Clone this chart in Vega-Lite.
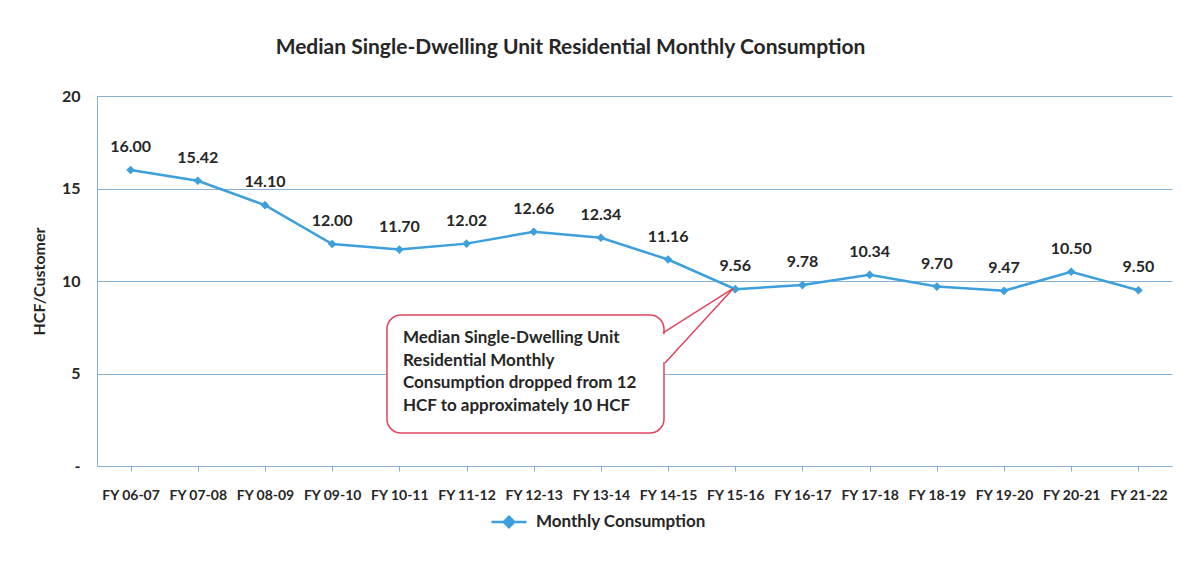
{
  "$schema": "https://vega.github.io/schema/vega-lite/v6.json",
  "width": 1075,
  "height": 370,
  "autosize": "none",
  "padding": {"left": 97, "top": 96, "right": 9, "bottom": 104},
  "background": "white",
  "title": {
    "text": "Median Single-Dwelling Unit Residential Monthly Consumption",
    "anchor": "middle",
    "dx": -64,
    "offset": 30,
    "font": "Lato",
    "fontSize": 21,
    "fontWeight": "bold",
    "color": "#262626"
  },
  "config": {
    "view": {"stroke": null},
    "font": "Lato"
  },
  "datasets": {
    "main": [
      {"fy": "FY 06-07", "hcf": 16.00, "series": "Monthly Consumption"},
      {"fy": "FY 07-08", "hcf": 15.42, "series": "Monthly Consumption"},
      {"fy": "FY 08-09", "hcf": 14.10, "series": "Monthly Consumption"},
      {"fy": "FY 09-10", "hcf": 12.00, "series": "Monthly Consumption"},
      {"fy": "FY 10-11", "hcf": 11.70, "series": "Monthly Consumption"},
      {"fy": "FY 11-12", "hcf": 12.02, "series": "Monthly Consumption"},
      {"fy": "FY 12-13", "hcf": 12.66, "series": "Monthly Consumption"},
      {"fy": "FY 13-14", "hcf": 12.34, "series": "Monthly Consumption"},
      {"fy": "FY 14-15", "hcf": 11.16, "series": "Monthly Consumption"},
      {"fy": "FY 15-16", "hcf": 9.56, "series": "Monthly Consumption"},
      {"fy": "FY 16-17", "hcf": 9.78, "series": "Monthly Consumption"},
      {"fy": "FY 17-18", "hcf": 10.34, "series": "Monthly Consumption"},
      {"fy": "FY 18-19", "hcf": 9.70, "series": "Monthly Consumption"},
      {"fy": "FY 19-20", "hcf": 9.47, "series": "Monthly Consumption"},
      {"fy": "FY 20-21", "hcf": 10.50, "series": "Monthly Consumption"},
      {"fy": "FY 21-22", "hcf": 9.50, "series": "Monthly Consumption"}
    ],
    "box": [
      {"x": 4.316, "x2": 8.439, "y": 8.162, "y2": 1.784}
    ],
    "cover": [
      {"x": 8.439, "y": 7.12, "y2": 5.62}
    ],
    "pointer": [
      {"o": 1, "x": 8.424, "y": 7.19},
      {"o": 2, "x": 9.47, "y": 9.6},
      {"o": 3, "x": 8.454, "y": 5.57}
    ],
    "note": [
      {"x": 4.554, "y": 7.35, "t": "Median Single-Dwelling Unit\nResidential Monthly\nConsumption dropped from 12\nHCF to approximately 10 HCF"}
    ]
  },
  "layer": [
    {
      "data": {"name": "main"},
      "encoding": {
        "x": {
          "field": "fy",
          "type": "nominal",
          "sort": null,
          "scale": {"paddingInner": 0, "paddingOuter": 0},
          "axis": {
            "title": null,
            "labelAngle": 0,
            "labelFont": "Lato",
            "labelFontSize": 14,
            "labelFontWeight": "bold",
            "labelColor": "#262626",
            "labelPadding": 17,
            "bandPosition": 0,
            "ticks": true,
            "tickSize": 5,
            "tickColor": "#86b0d4",
            "domainColor": "#86b0d4",
            "grid": false
          }
        },
        "y": {
          "field": "hcf",
          "type": "quantitative",
          "scale": {"domain": [0, 20]},
          "axis": {
            "title": "HCF/Customer",
            "titleFont": "Lato",
            "titleFontSize": 16,
            "titleFontWeight": "bold",
            "titleColor": "#262626",
            "titlePadding": 14,
            "values": [0, 5, 10, 15, 20],
            "labelExpr": "datum.value == 0 ? '-' : datum.label",
            "labelFont": "Lato",
            "labelFontSize": 16,
            "labelFontWeight": "bold",
            "labelColor": "#262626",
            "labelPadding": 17,
            "ticks": false,
            "domainColor": "#86b0d4",
            "grid": true,
            "gridColor": "#86b0d4",
            "gridWidth": 1
          }
        }
      },
      "layer": [
        {
          "mark": {"type": "line", "strokeWidth": 2.5},
          "encoding": {
            "color": {
              "field": "series",
              "type": "nominal",
              "scale": {"range": ["#3d9fdc"]},
              "legend": {
                "title": null,
                "orient": "none",
                "legendX": 393,
                "legendY": 407,
                "symbolType": "M-1,0L1,0M0,-0.3L0.3,0L0,0.3L-0.3,0Z",
                "symbolSize": 1225,
                "symbolStrokeWidth": 2.5,
                "symbolFillColor": "#3d9fdc",
                "symbolStrokeColor": "#3d9fdc",
                "labelFont": "Lato",
                "labelFontSize": 17,
                "labelFontWeight": "bold",
                "labelColor": "#262626",
                "labelOffset": 8,
                "labelLimit": 400
              }
            }
          }
        },
        {
          "mark": {"type": "point", "shape": "diamond", "filled": true, "size": 75, "color": "#3d9fdc", "opacity": 1}
        },
        {
          "mark": {"type": "text", "dy": -23, "font": "Lato", "fontSize": 16, "fontWeight": "bold", "color": "#262626"},
          "encoding": {
            "text": {"field": "hcf", "type": "quantitative", "format": ".2f"}
          }
        }
      ]
    },
    {
      "layer": [
        {
          "data": {"name": "box"},
          "mark": {"type": "rect", "fill": "white", "stroke": "#e0455f", "strokeWidth": 1.5, "cornerRadius": 14},
          "encoding": {
            "x": {"field": "x", "type": "quantitative", "scale": {"domain": [0, 16]}, "axis": null},
            "x2": {"field": "x2"},
            "y": {"field": "y", "type": "quantitative", "scale": {"domain": [0, 20]}, "axis": null},
            "y2": {"field": "y2"}
          }
        },
        {
          "data": {"name": "cover"},
          "mark": {"type": "rule", "stroke": "white", "strokeWidth": 4},
          "encoding": {
            "x": {"field": "x", "type": "quantitative", "scale": {"domain": [0, 16]}, "axis": null},
            "y": {"field": "y", "type": "quantitative", "scale": {"domain": [0, 20]}, "axis": null},
            "y2": {"field": "y2"}
          }
        },
        {
          "data": {"name": "pointer"},
          "mark": {"type": "line", "stroke": "#e0455f", "strokeWidth": 1.5},
          "encoding": {
            "x": {"field": "x", "type": "quantitative", "scale": {"domain": [0, 16]}, "axis": null},
            "y": {"field": "y", "type": "quantitative", "scale": {"domain": [0, 20]}, "axis": null},
            "order": {"field": "o"}
          }
        },
        {
          "data": {"name": "note"},
          "mark": {"type": "text", "align": "left", "baseline": "top", "lineBreak": "\n", "lineHeight": 22.6, "font": "Lato", "fontSize": 17, "fontWeight": "bold", "color": "#262626"},
          "encoding": {
            "x": {"field": "x", "type": "quantitative", "scale": {"domain": [0, 16]}, "axis": null},
            "y": {"field": "y", "type": "quantitative", "scale": {"domain": [0, 20]}, "axis": null},
            "text": {"field": "t"}
          }
        }
      ]
    }
  ],
  "resolve": {"scale": {"x": "independent", "y": "independent"}}
}
